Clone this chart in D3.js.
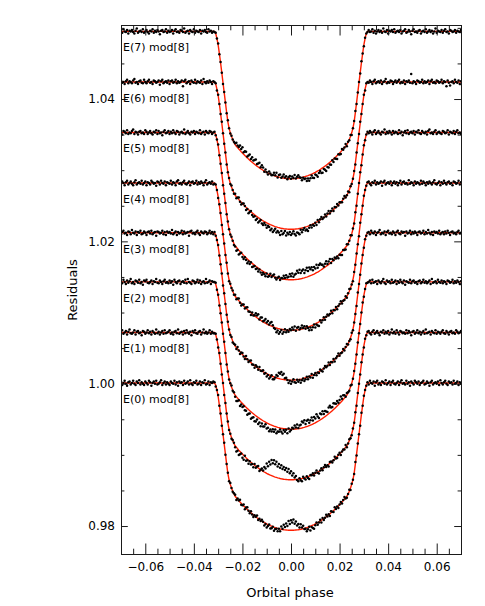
<!DOCTYPE html>
<html><head><meta charset="utf-8">
<script src="https://cdn.jsdelivr.net/npm/d3@7"></script>
<style>html,body{margin:0;padding:0;background:#fff;}svg{display:block}</style>
</head><body>
<svg id="chart" width="485" height="606"></svg>
<script>
// ---------------- data ----------------
const epochLabels = ["E(0) mod[8]","E(1) mod[8]","E(2) mod[8]","E(3) mod[8]","E(4) mod[8]","E(5) mod[8]","E(6) mod[8]","E(7) mod[8]"];
const offsets = [0.0001, 0.0072, 0.0143, 0.0212, 0.0282, 0.0353, 0.0424, 0.0495];
const phaseStart = -0.07, phaseStep = 0.0005;           // observation cadence
// transit model, relative flux at |phase| = 0, 0.0005, ... 0.0315 (symmetric)
const modelHalf = [0.97930,0.97930,0.97931,0.97932,0.97934,0.97936,0.97938,0.97941,0.97944,0.97948,
0.97953,0.97957,0.97963,0.97968,0.97974,0.97981,0.97988,0.97995,0.98003,0.98011,
0.98020,0.98030,0.98039,0.98049,0.98060,0.98071,0.98083,0.98095,0.98107,0.98120,
0.98133,0.98147,0.98161,0.98176,0.98191,0.98206,0.98223,0.98239,0.98256,0.98273,
0.98291,0.98309,0.98328,0.98347,0.98367,0.98387,0.98408,0.98440,0.98480,0.98525,
0.98575,0.98640,0.98730,0.98860,0.99000,0.99140,0.99280,0.99420,0.99560,0.99690,
0.99810,0.99900,0.99970,1.00000];
// observed minus model, units of 1e-4, one value per cadence point (281 each)
const res0 = [2,-3,0,3,-1,-4,1,2,-2,0,3,-1,-3,2,0,4,-2,1,-1,-3,
2,0,-2,3,1,-4,0,2,-1,3,-2,-1,1,4,-3,0,2,-2,1,-1,
-3,2,0,-1,3,-2,1,-4,2,0,1,-3,3,-1,0,2,-2,4,-1,-3,
1,0,3,-2,-1,2,-3,1,0,4,-2,-1,2,-3,1,0,2,
1,-2,0,2,-1,1,-2,0,2,-1,0,1,-2,2,0,-1,1,
2,-3,1,0,3,-2,-1,2,-3,1,3,0,-2,2,-1,-3,1,0,3,-2,1,-1,2,
0,-4,-1,-5,-2,1,-4,-3,0,-5,-2,-1,-4,0,-3,
4,1,7,4,9,6,13,9,14,11,15,9,12,6,8,3,7,2,4,
-1,
-1,-5,-3,0,-6,-2,-4,-6,-2,
1,-3,-1,2,-3,
2,-2,0,3,-1,1,-3,2,0,-2,3,-1,1,-3,0,2,-2,1,3,-1,-2,0,2,-3,1,0,-1,3,-2,1,0,-2,2,-1,1,0,-1,1,
-2,3,0,-1,2,-4,1,3,-2,0,-3,2,1,-1,4,-2,0,2,-3,1,
3,-1,-2,0,2,-3,1,4,-1,0,-2,3,-1,1,-4,2,0,-2,3,1,
-1,2,-3,0,1,3,-2,-1,2,0,-4,1,3,-2,0,1,-1,2,-3,4,
0,-2,1,3,-1,-3,2,0,1,-2,3,-1,0,2,-3,1,-1];
const res1 = [-1,3,-2,0,2,-3,1,4,-1,-2,0,3,-3,1,2,-1,0,-4,2,1,
-2,0,3,-1,1,-3,2,0,-2,4,-1,1,-3,0,2,-2,3,-1,0,1,
3,-2,0,-3,1,2,-1,4,-2,0,1,-3,2,-1,3,0,-2,1,-4,2,
0,3,-1,-2,1,2,-3,0,4,-1,1,-2,0,3,-2,1,-1,
-1,1,0,-2,2,0,-1,1,-2,1,0,2,-1,0,-2,1,1,
-2,-6,-3,-7,-4,-1,-5,-6,
1,-4,-2,-5,0,-3,-1,-4,
2,-2,1,3,-3,0,
3,1,7,6,14,11,18,15,22,18,23,18,22,16,20,15,19,14,17,13,16,11,15,9,12,6,9,3,5,-1,
-3,1,-2,-4,2,-1,-3,1,-2,-4,1,0,
2,-2,1,3,-1,-3,0,2,-2,1,3,-1,0,-3,2,1,-2,0,3,-1,-2,1,2,-3,0,1,-1,3,-2,0,2,-1,-2,1,0,2,-3,1,0,-1,2,0,-2,1,-1,1,
2,-1,-3,1,3,-2,0,2,-1,-4,1,0,3,-2,1,-1,2,-3,0,4,
-1,1,-2,3,0,-3,2,1,-1,0,-2,3,-1,2,0,-4,1,2,-2,0,
3,-1,1,-3,0,2,-2,4,-1,0,1,-3,2,0,-1,3,-2,1,0,-2,
1,3,-1,-2,2,0,-3,1,2,-1,0,-2,3,1,-1,0,2];
const res2 = [1,-2,3,0,-3,2,-1,1,4,-2,0,-3,2,1,-1,3,-2,0,-4,2,
1,3,-1,-2,0,2,-3,1,0,4,-1,-2,2,0,-3,1,3,-1,0,-2,
2,-1,1,-4,3,0,-2,1,2,-3,0,1,-1,3,-2,4,0,-1,-3,2,
1,-2,0,3,-1,2,-3,0,1,-2,4,-1,0,2,-3,1,0,
0,2,-1,1,-2,0,1,-1,2,0,-2,1,-1,0,2,-1,1,
-2,-6,-4,-1,-7,-3,-5,-2,-6,
-5,-9,-6,-4,-10,-7,-5,-9,-8,-4,-9,-6,-10,-5,-8,-7,-3,-8,-6,-10,-7,-9,-5,-8,-4,-9,-6,
-6,-2,-5,-7,-2,-4,-1,-6,
1,-3,-1,2,
1,5,2,6,1,4,
5,9,7,10,4,8,9,4,7,10,5,9,6,11,7,4,9,7,10,5,8,6,4,9,10,6,5,9,7,5,
7,3,5,8,3,6,
4,0,3,1,
-1,2,-2,0,2,-1,-2,1,0,-1,1,2,-2,0,1,-1,
0,2,-2,3,-1,0,1,-3,2,0,-2,1,4,-1,-3,2,0,1,-2,3,
-1,0,2,-3,1,-1,3,0,-2,2,-4,1,0,-1,3,-2,1,2,-1,0,
-3,1,2,-2,0,3,-1,1,-2,0,2,-3,4,-1,0,1,-2,3,0,-1,
2,-2,1,0,-3,2,1,-1,0,3,-2,1,-1,2,0,-3,1];
const res3 = [-2,1,3,-1,0,-3,2,1,-2,4,0,-1,2,-3,1,0,3,-2,-1,2,
0,-3,1,2,-1,3,-2,0,1,-4,2,1,-1,0,3,-2,1,-3,2,0,
1,-1,4,-2,0,2,-3,1,-1,0,3,-2,2,-1,0,1,-4,2,3,-1,
0,-2,1,3,-1,-3,2,0,-1,2,1,-2,0,3,-1,1,-2,
1,-1,0,2,-1,0,1,-2,1,0,-1,2,0,-1,1,-2,0,
2,-2,3,0,-3,1,2,-1,-3,3,0,-2,1,3,-1,0,-3,2,1,-2,3,-1,0,2,-2,
0,-4,-1,-5,-2,1,-4,-3,0,
4,3,8,7,10,6,8,2,3,
0,-4,-1,-5,-2,1,-3,-4,0,-3,-1,-5,-2,0,-4,-2,
1,-3,0,-2,2,-4,-1,1,-3,0,-2,2,-1,-3,0,
2,-1,0,3,-2,1,-1,2,-3,0,1,3,-2,0,-1,2,-2,1,3,-1,0,-2,2,-1,1,0,-3,2,0,-1,1,0,-2,1,-1,0,
1,-2,3,0,-1,2,-3,0,1,4,-2,0,-1,2,-3,1,3,-1,0,-2,
2,0,-3,1,3,-1,-2,2,0,1,-4,2,-1,0,3,-2,1,-1,2,0,
-3,1,2,-1,0,3,-2,1,-1,4,0,-2,1,-3,2,0,1,-1,3,-2,
0,1,-2,2,-1,3,0,-3,1,2,-1,0,-2,1,3,-1,0];
const res4 = [-1,2,0,-3,1,3,-2,0,2,-1,-3,1,4,-2,0,1,-1,3,-2,0,
2,-3,1,0,-2,3,1,-1,0,-4,2,1,-2,3,0,-1,2,-3,1,0,
-1,3,-2,1,0,-3,2,4,-1,0,-2,1,3,-1,-2,0,2,-3,1,2,
-1,0,3,-2,1,-1,2,0,-3,1,4,-2,0,1,-1,2,-2,
-1,1,0,-2,1,2,-1,0,1,-1,2,0,-2,1,0,1,-1,
2,-2,1,3,-1,-3,0,2,-2,1,3,-1,0,-3,2,-1,
1,5,3,6,0,4,5,1,3,6,2,5,1,4,6,2,
-1,
-2,-6,-3,-7,-4,-1,-6,-3,
1,-3,0,-2,2,
0,4,1,5,-1,3,4,0,2,5,1,3,-1,2,
-1,-5,-2,-6,-3,0,-5,-2,-4,-6,
1,-3,-1,2,-3,0,
2,-1,0,3,-2,1,-1,2,-3,0,1,3,-2,0,-1,2,-2,1,3,-1,0,-2,2,-1,1,0,-3,2,0,-1,1,0,-1,1,
2,-1,-3,1,0,3,-2,1,-1,0,2,-4,1,3,-2,0,1,-1,2,-3,
0,2,-1,1,-3,0,3,-2,1,2,-1,0,-2,4,-1,1,0,-3,2,-1,
1,0,-2,3,-1,2,0,-3,1,-1,2,0,-2,1,4,-1,-2,0,2,-3,
1,-1,3,0,-2,1,2,-1,0,-3,2,1,-1,0,3,-2,1];
const res5 = [0,-3,2,1,-1,3,-2,0,-1,2,4,-2,1,0,-3,1,2,-1,0,-2,
3,1,-2,0,2,-1,-3,1,0,3,-2,2,-1,0,-4,1,3,-1,0,2,
-2,1,-1,3,0,-2,2,1,-3,0,1,-1,4,-2,0,2,-1,-3,1,0,
2,-2,1,0,-1,3,-2,0,1,-3,2,0,-1,2,1,-2,0,
1,-1,0,2,-1,0,1,-2,0,1,-1,2,0,-1,1,0,-2,
-1,-5,-2,-6,-3,0,-4,-5,-1,-3,-6,-2,-4,0,-5,-3,-1,-4,-2,
-5,-1,-4,-6,-2,-3,-5,0,-4,-2,
2,-2,1,3,-1,-3,0,2,-2,1,
1,5,2,6,3,
4,8,5,9,4,7,
8,12,9,13,8,11,12,7,10,13,8,12,9,11,
6,10,7,11,6,9,10,7,
6,2,5,7,2,4,6,
-1,3,0,2,-1,
0,-4,-1,-3,-5,0,-2,-3,
2,-1,0,3,-2,1,-1,2,-3,0,1,2,-2,0,1,-1,0,1,
-1,2,0,-3,1,3,-2,0,2,-1,-3,1,0,4,-2,1,-1,2,0,-3,
2,-1,1,0,-2,3,-1,1,-4,0,2,-1,3,-2,0,1,-1,2,-3,1,
0,3,-1,-2,2,0,-1,1,-3,2,4,-1,0,-2,1,3,-2,0,1,-1,
-2,2,1,-1,0,3,-3,1,0,-1,2,-2,1,3,-1,0,-2];
const res6 = [2,-1,0,-3,1,3,-2,1,0,-2,2,4,-1,0,-3,1,2,-1,-2,3,
0,-2,1,3,-1,0,-3,2,1,-1,0,2,-4,1,3,-2,0,1,-1,2,
-3,1,2,-1,0,3,-2,1,-1,0,2,-6,1,3,-2,0,1,-3,2,0,
-1,3,-2,1,0,-1,2,-3,4,0,-2,1,-1,2,0,-3,1,
0,1,-2,1,0,-1,2,0,-1,1,-2,0,1,-1,2,0,-1,
2,-2,1,3,-1,-3,0,2,
0,-4,-1,-5,-2,1,-3,-4,
-2,-6,-3,-7,-4,-1,-5,-6,-2,-4,-7,-3,
-4,-8,-5,-9,-6,-3,-8,-5,-7,-10,-4,-8,-6,-3,-9,-5,-7,-4,-8,-6,-3,-7,-9,-5,-6,-8,
-2,-6,-3,-1,-5,-4,-7,-3,
0,-4,-1,-3,0,-4,
2,-2,1,3,-1,0,
3,-1,2,4,-1,1,3,-2,2,0,3,-1,2,0,
-2,1,3,-1,0,2,-3,1,-1,0,2,-2,1,0,-1,2,-1,0,1,-2,1,0,
-1,2,0,-3,1,3,-2,0,1,-1,2,-3,0,1,4,-2,0,-1,2,1,
-3,0,2,-1,1,3,-2,0,-1,2,-3,1,0,2,-1,11,-2,1,0,-3,
2,1,-1,0,3,-2,1,-1,0,2,-3,1,3,-1,0,-2,2,1,-1,0,
3,-2,1,0,-6,2,-1,-5,0,1,-2,3,0,-1,2,-3,1];
const res7 = [1,-2,3,0,-1,2,-3,1,0,2,-1,-3,1,4,-2,0,1,-1,3,-2,
0,2,-1,-3,1,0,3,-2,1,-1,2,0,-4,1,2,-1,0,3,-2,1,
-1,0,2,-3,1,3,-1,0,-2,2,1,-1,4,-2,0,1,-3,2,0,-1,
3,-2,1,0,-1,2,-3,1,0,2,-1,-2,3,0,1,-2,0,
-1,1,0,2,-1,1,0,-2,1,0,-1,2,0,-1,1,0,1,
2,5,3,
3,7,4,8,3,6,7,2,5,8,3,7,4,6,8,3,5,7,2,6,4,
-1,3,0,-2,3,1,-1,
0,4,1,5,-1,3,4,0,2,5,1,3,-1,2,4,0,3,1,5,0,2,4,1,
0,-4,-1,-3,
-3,-7,-4,-8,-5,-2,-6,-7,-3,-5,-8,-4,-2,-6,-7,-3,-5,-8,-4,-6,-3,-5,
0,-4,-1,-3,-5,0,-2,-3,
2,-1,0,3,-2,1,-1,2,-3,0,1,2,-2,0,1,-1,2,0,-2,1,0,-1,
2,-1,0,3,-2,1,-3,0,2,-1,1,-2,4,0,-1,2,-3,1,0,2,
-1,3,-2,0,1,-1,2,-3,0,1,3,-2,-1,2,0,-4,1,3,-1,0,
-2,1,2,-3,0,1,-1,3,-2,0,2,-1,1,-3,0,4,-2,1,0,-1,
2,-2,1,3,-1,0,-3,2,1,-1,0,2,-2,1,0,-1,2];
const residuals = [res0,res1,res2,res3,res4,res5,res6,res7];
const xMajorTicks = [-0.06,-0.04,-0.02,0,0.02,0.04,0.06];
const xMinorTicks = [-0.065,-0.055,-0.05,-0.045,-0.035,-0.03,-0.025,-0.015,-0.01,-0.005,0.005,0.01,0.015,0.025,0.03,0.035,0.045,0.05,0.055,0.065];
const yMajorTicks = [0.98,1.00,1.02,1.04];
const yMinorTicks = [0.985,0.99,0.995,1.005,1.01,1.015,1.025,1.03,1.035,1.045,1.05];
const xTitle = "Orbital phase", yTitle = "Residuals";

// ---------------- chart ----------------
const svg = d3.select("#chart");
const L = 121, R = 461, T = 25, B = 554;
const x = d3.scaleLinear().domain([-0.07, 0.07]).range([L, R]);
const y = d3.scaleLinear().domain([0.97607, 1.0504]).range([B, T]);
const FONT = "DejaVu Sans, Verdana, sans-serif";
const AX = "#1a1a1a";

const nHalf = modelHalf.length - 1;
function modelAt(k) { const a = Math.abs(k); return a <= nHalf ? modelHalf[a] : 1; }
const nPts = Math.round((0.07 - phaseStart) / phaseStep) + 1;
const iCentre = Math.round(-phaseStart / phaseStep);

const lineGen = d3.line().x(d => x(d[0])).y(d => y(d[1]));
const modelPts = [[-0.07, 1]];
for (let k = -nHalf; k <= nHalf; k++) modelPts.push([k * phaseStep, modelAt(k)]);
modelPts.push([0.07, 1]);

svg.append("defs").append("clipPath").attr("id","clip").append("rect")
  .attr("x", L).attr("y", T).attr("width", R - L).attr("height", B - T);
const gData = svg.append("g").attr("clip-path","url(#clip)");

offsets.forEach(off => {
  gData.append("path")
    .attr("d", lineGen(modelPts.map(d => [d[0], d[1] + off])))
    .attr("fill","none").attr("stroke","#ff1e00").attr("stroke-width",1.4);
});
offsets.forEach((off, e) => {
  const res = residuals[e];
  const pts = [];
  for (let i = 0; i < nPts && i < res.length; i++) {
    pts.push([phaseStart + i * phaseStep, modelAt(i - iCentre) + res[i] * 1e-4 + off]);
  }
  gData.append("g").selectAll("circle").data(pts).join("circle")
    .attr("cx", d => x(d[0])).attr("cy", d => y(d[1])).attr("r", 1.25).attr("fill","#000");
});

function styleAxis(g) {
  g.select(".domain").remove();
  g.selectAll("line").attr("stroke", AX);
  g.selectAll("text").attr("fill","#000").attr("font-family", FONT).attr("font-size", 12);
}
const fmt = d3.format(".2f");
svg.append("g").attr("transform",`translate(0,${B})`)
  .call(d3.axisBottom(x).tickValues(xMajorTicks).tickFormat(fmt).tickSize(-10.5).tickPadding(8)).call(styleAxis);
svg.append("g").attr("transform",`translate(0,${B})`)
  .call(d3.axisBottom(x).tickValues(xMinorTicks).tickFormat("").tickSize(-5.3)).call(styleAxis);
svg.append("g").attr("transform",`translate(0,${T})`)
  .call(d3.axisTop(x).tickValues(xMajorTicks).tickFormat("").tickSize(-10.5)).call(styleAxis);
svg.append("g").attr("transform",`translate(0,${T})`)
  .call(d3.axisTop(x).tickValues(xMinorTicks).tickFormat("").tickSize(-5.3)).call(styleAxis);
svg.append("g").attr("transform",`translate(${L},0)`)
  .call(d3.axisLeft(y).tickValues(yMajorTicks).tickFormat(fmt).tickSize(-6.8).tickPadding(6)).call(styleAxis);
svg.append("g").attr("transform",`translate(${L},0)`)
  .call(d3.axisLeft(y).tickValues(yMinorTicks).tickFormat("").tickSize(-3.4)).call(styleAxis);
svg.append("g").attr("transform",`translate(${R},0)`)
  .call(d3.axisRight(y).tickValues(yMajorTicks).tickFormat("").tickSize(-6.8)).call(styleAxis);
svg.append("g").attr("transform",`translate(${R},0)`)
  .call(d3.axisRight(y).tickValues(yMinorTicks).tickFormat("").tickSize(-3.4)).call(styleAxis);

svg.append("rect").attr("x", L + 0.5).attr("y", T + 0.5).attr("width", R - L).attr("height", B - T)
  .attr("fill","none").attr("stroke", AX).attr("stroke-width", 1);

offsets.forEach((off, e) => {
  svg.append("text").attr("x", L + 2).attr("y", y(1 + off) + 20)
    .attr("font-family", FONT).attr("font-size", 11).attr("fill","#000")
    .text(epochLabels[e]);
});

svg.append("text").attr("x", 290).attr("y", 597).attr("text-anchor","middle")
  .attr("font-family", FONT).attr("font-size", 13).attr("fill","#000").text(xTitle);
svg.append("text").attr("transform","translate(77,290) rotate(-90)").attr("text-anchor","middle")
  .attr("font-family", FONT).attr("font-size", 13).attr("fill","#000").text(yTitle);
</script>
</body></html>
